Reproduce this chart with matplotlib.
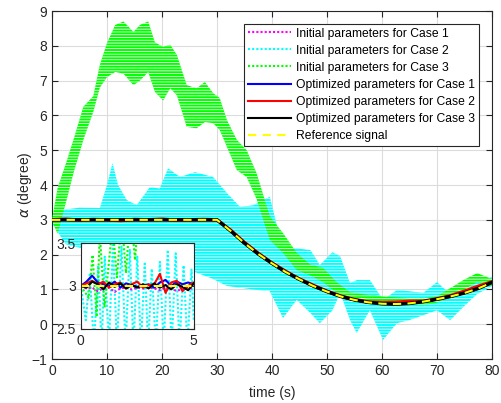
import matplotlib
matplotlib.use('Agg')
from matplotlib import pyplot as plt
from matplotlib.lines import Line2D

plt.rcParams['font.family'] = ['Liberation Sans', 'DejaVu Sans']
plt.rcParams['hatch.linewidth'] = 0.6

# reference signal (and optimized responses, indistinguishable at full scale)
t_ref = [0, 2.5, 5, 7.5, 10, 12.5, 15, 17.5, 20, 22.5, 25, 27.5, 30, 32.5, 35, 37.5,
         40, 42.5, 45, 47.5, 50, 52.5, 55, 57.5, 60, 62.5, 65, 67.5, 70, 72.5, 75, 77.5, 80]
ref = [3.0, 3.0, 3.0, 3.0, 3.0, 3.0, 3.0, 3.0, 3.0, 3.0, 3.0, 3.0, 3.0, 2.68, 2.33, 2.02,
       1.75, 1.5, 1.29, 1.1, 0.94, 0.8, 0.7, 0.63, 0.59, 0.58, 0.6, 0.65, 0.72, 0.8, 0.9, 1.03, 1.2]
opt_red = [3.0, 3.02, 2.99, 3.01, 3.0, 2.98, 3.01, 3.0, 3.02, 2.99, 3.0, 3.01, 3.0, 2.7, 2.35, 2.04,
           1.76, 1.52, 1.3, 1.12, 0.95, 0.81, 0.71, 0.64, 0.62, 0.63, 0.66, 0.66, 0.73, 0.82, 0.95, 1.09, 1.22]

# Case 3 initial: envelope of the fast oscillation
t_g = [0, 1, 2.7, 3.9, 5.7, 7.5, 8.7, 10, 11.5, 13, 14.8, 16, 17.5, 18.7, 20.2, 21.5, 22.7,
       24.5, 26.3, 27.8, 29.3, 30.5, 31.8, 33.6, 35.4, 37.2, 39.6, 42, 44.5, 46.9, 49.3,
       51.8, 54.2, 56.6, 60.2, 63.9, 67.5, 70, 74.8, 77.3, 80]
g_hi = [3.0, 3.9, 4.7, 5.3, 6.25, 6.55, 7.45, 8.08, 8.6, 8.7, 8.4, 8.6, 8.7, 8.1, 7.97, 8.03, 7.74,
        6.87, 6.78, 6.96, 6.64, 6.5, 5.87, 5.3, 5.0, 4.34, 3.1, 2.62, 2.05, 1.72, 1.62,
        1.2, 0.92, 0.86, 0.8, 0.76, 0.75, 0.8, 1.27, 1.47, 1.3]
g_lo = [3.0, 2.6, 3.6, 4.34, 5.3, 6.1, 6.8, 7.1, 7.25, 7.2, 6.87, 7.0, 7.25, 6.68, 6.43, 6.78, 6.58,
        5.67, 5.63, 5.81, 5.78, 5.58, 5.1, 4.43, 4.23, 3.6, 2.42, 2.05, 1.56, 1.41, 1.21,
        0.9, 0.7, 0.7, 0.65, 0.6, 0.55, 0.62, 0.98, 1.21, 1.1]

# Case 2 initial: envelope of the fast oscillation
t_c = [0, 2.5, 5, 8.7, 10, 11, 12, 13.6, 15.4, 17.8, 19.6, 21.1, 23.3, 26, 29.3, 31.8, 34.2,
       36.6, 39.6, 42, 44.5, 47, 48.7, 51, 52.4, 54.2, 55.4, 57.8, 60.2, 62.7, 65, 67.5,
       70, 72.4, 74.8, 77.3, 80]
c_hi = [3.1, 3.3, 3.35, 3.34, 4.0, 4.63, 4.0, 3.57, 3.42, 3.94, 3.9, 4.48, 4.23, 4.37, 4.23, 3.77, 3.37,
        3.42, 3.66, 2.13, 2.18, 2.13, 1.7, 2.07, 1.95, 1.18, 1.27, 1.27, 0.7, 0.98, 0.95, 0.9,
        1.21, 0.87, 0.9, 1.27, 1.35]
c_lo = [2.9, 2.3, 2.2, 2.15, 2.1, 2.1, 2.05, 2.0, 2.0, 1.9, 1.8, 1.7, 1.6, 1.5, 1.3, 1.1, 1.05,
        1.0, 0.95, 0.18, 0.7, 0.32, 0.03, 0.4, 0.9, 0.12, -0.25, 0.4, -0.45, 0.03, 0.12, 0.26,
        0.4, 0.12, 0.5, 0.87, 1.1]

# inset, 0-5 s
t_in = [0, 0.25, 0.5, 0.75, 1, 1.25, 1.5, 1.75, 2, 2.25, 2.5, 2.75, 3, 3.25, 3.5, 3.75, 4,
        4.25, 4.5, 4.75, 5]
in_black = [3.0, 2.98, 3.05, 3.02, 2.96, 3.04, 2.99, 3.03, 2.97, 3.01, 2.98, 3.02, 2.97, 3.03,
            2.98, 3.01, 2.96, 3.02, 2.99, 2.95, 3.03]
in_blue = [3.0, 3.05, 3.12, 3.04, 3.02, 3.0, 3.05, 2.98, 3.03, 3.01, 2.99, 3.0, 3.02, 2.98,
           3.04, 3.07, 3.0, 3.05, 3.02, 3.04, 3.02]
in_red = [3.0, 3.03, 3.06, 3.02, 3.05, 2.98, 3.02, 3.04, 2.97, 3.02, 3.05, 2.98, 3.01, 3.02,
          3.14, 2.92, 3.04, 3.06, 2.94, 3.0, 3.04]
in_mag = [3.0, 2.97, 2.98, 2.94, 2.97, 2.98, 2.93, 2.97, 2.98, 2.96, 2.98, 2.97, 2.98, 2.97,
          2.95, 2.98, 2.97, 2.94, 2.97, 2.98, 2.96]
t_in_c = [0, 0.22, 0.4, 0.58, 0.77, 0.92, 1.06, 1.24, 1.42, 1.6, 1.8, 1.98, 2.17, 2.33, 2.5,
          2.66, 2.83, 2.98, 3.14, 3.32, 3.5, 3.67, 3.85, 4.02, 4.2, 4.37, 4.55, 4.72, 4.9, 5.0]
in_cyan = [3.0, 2.6, 3.15, 2.3, 3.24, 2.3, 3.34, 2.3, 3.48, 2.3, 3.46, 2.3, 3.42, 2.3, 3.34,
           2.3, 3.26, 2.3, 3.2, 2.3, 3.28, 2.3, 3.42, 2.3, 3.38, 2.3, 3.24, 2.3, 3.19, 2.6]
t_in_g = [0, 0.35, 0.52, 0.7, 0.84, 1.05, 1.4, 1.6, 1.8, 2.0, 2.2, 2.4, 2.6, 2.8, 3.0]
in_green = [3.0, 2.86, 3.36, 2.64, 3.6, 2.75, 3.7, 3.1, 3.8, 3.15, 3.9, 3.3, 4.0, 3.6, 4.2]

labels = ['Initial parameters for Case 1', 'Initial parameters for Case 2',
          'Initial parameters for Case 3', 'Optimized parameters for Case 1',
          'Optimized parameters for Case 2', 'Optimized parameters for Case 3',
          'Reference signal']

GRAY = '#262626'
dot = (0, (1, 1))
dash = (0, (4, 3))

fig = plt.figure(figsize=(5.02, 4.03), dpi=100)
ax = fig.add_axes([0.1036, 0.109, 0.8764, 0.8637])

ax.fill_between(t_c, c_lo, c_hi, facecolor='cyan', edgecolor='white', hatch='------',
                linewidth=0, zorder=2)
ax.fill_between(t_g, g_lo, g_hi, facecolor='#00ff00', edgecolor='white', hatch='------',
                linewidth=0, zorder=3)
ax.plot(t_ref, ref, color='magenta', linestyle=dot, lw=1.5, zorder=4)
ax.plot(t_ref, ref, color='blue', lw=2, zorder=5)
ax.plot(t_ref, opt_red, color='red', lw=2.5, zorder=5)
ax.plot(t_ref, ref, color='black', lw=2.5, zorder=6)
ax.plot(t_ref, ref, color='yellow', linestyle=dash, lw=1.5, zorder=7)

ax.set_xlim(0, 80)
ax.set_ylim(-1, 9)
ax.set_xticks(range(0, 81, 10))
ax.set_yticks(range(-1, 10))
ax.grid(True, color='#dcdcdc', lw=0.8)
ax.set_axisbelow(True)
ax.tick_params(direction='in', top=True, right=True, labelsize=10, colors=GRAY, length=4)
for s in ax.spines.values():
    s.set_color(GRAY)
ax.set_xlabel('time (s)', fontsize=10, color=GRAY, labelpad=6)
ax.set_ylabel(r'$\alpha$ (degree)', fontsize=10, color=GRAY, labelpad=-2)

handles = [Line2D([], [], color='magenta', linestyle=dot, lw=1.5),
           Line2D([], [], color='cyan', linestyle=dot, lw=1.5),
           Line2D([], [], color='#00ff00', linestyle=dot, lw=1.5),
           Line2D([], [], color='blue', lw=1.5),
           Line2D([], [], color='red', lw=1.5),
           Line2D([], [], color='black', lw=1.5),
           Line2D([], [], color='yellow', linestyle=dash, lw=1.5)]
leg = ax.legend(handles, labels, loc='upper right', bbox_to_anchor=(0.97, 0.963),
                fontsize=8.7, fancybox=False, framealpha=1, edgecolor=GRAY,
                borderpad=0.3, labelspacing=0.42, handlelength=3.6, handletextpad=0.4,
                borderaxespad=0)
leg.get_frame().set_linewidth(0.8)
leg.set_zorder(10)

# zoomed inset
ins = fig.add_axes([0.161, 0.184, 0.225, 0.213])
ins.plot(t_in_c, in_cyan, color='cyan', linestyle=dot, lw=1.5)
ins.plot(t_in_g, in_green, color='#00ff00', linestyle=dot, lw=1.5)
ins.plot(t_in, in_mag, color='magenta', linestyle=dot, lw=1.5)
ins.plot(t_in, in_blue, color='blue', lw=1.5)
ins.plot(t_in, in_red, color='red', lw=1.5)
ins.plot(t_in, in_black, color='black', lw=1.5)
ins.plot(t_in, [3.0] * len(t_in), color='yellow', linestyle=dash, lw=1.5)
ins.set_xlim(0, 5)
ins.set_ylim(2.5, 3.5)
ins.set_xticks([0, 5])
ins.set_yticks([2.5, 3, 3.5])
ins.set_yticklabels(['2.5', '3', '3.5'])
ins.tick_params(direction='in', top=True, right=True, labelsize=10, colors=GRAY, length=3)
for s in ins.spines.values():
    s.set_color(GRAY)

fig.savefig('out.png', dpi=100)
